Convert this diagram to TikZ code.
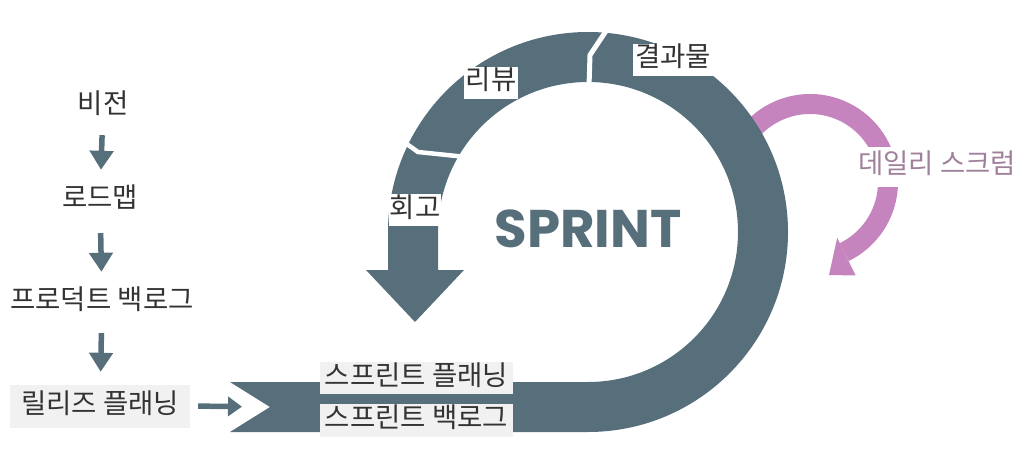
\documentclass[tikz,border=0pt]{standalone}
\usepackage{fontspec}
\setmainfont{Noto Sans CJK KR}
\newfontfamily\sprintfont{Poppins}
\usetikzlibrary{arrows.meta}
\definecolor{slate}{HTML}{566F7B}
\definecolor{pinkarc}{HTML}{C584BD}
\definecolor{pinktext}{HTML}{A0819B}
\definecolor{txt}{HTML}{333333}
\definecolor{bandfill}{HTML}{F1F1F1}
\begin{document}
\begin{tikzpicture}[x=1pt,y=1pt,
  lbl/.style={font=\fontsize{27.5}{27.5}\selectfont, text=txt, inner sep=3pt, text height=20pt, text depth=6pt},
  ringlbl/.style={lbl, fill=white, inner xsep=2pt},
  bandlbl/.style={lbl, fill=bandfill, minimum width=193pt, inner xsep=0pt},
  arr/.style={draw=slate, line width=5.5pt, -{Triangle[length=19pt,width=23pt]}},
  arrs/.style={draw=slate, line width=5.5pt, -{Triangle[length=14pt,width=19pt]}}]
\useasboundingbox (0,0) rectangle (1024,-449);
% daily scrum arc (behind ring)
\draw[pinkarc, line width=20pt] (810,-182) ++(155:78) arc[start angle=155, end angle=-64, radius=78];
\fill[pinkarc] (837.2,-237.7) -- (855.6,-275.5) -- (829,-275) -- cycle;
% sprint ring with band and arrow
\fill[slate] (230,-382) -- (588,-382) arc[start angle=-90, end angle=180, radius=150]
  -- (438,-270) -- (464,-270) -- (415,-322) -- (366,-270) -- (388,-270) -- (388,-232)
  arc[start angle=180, end angle=-90, radius=200] -- (230,-432) -- (270,-407) -- cycle;
\coordinate (notch) at (270,-407);
% gaps in the ring
\draw[white, line width=4.5pt] (404,-142) -- (418,-152) -- (466,-157);
\draw[white, line width=5pt] (608,-28) -- (590,-55) -- (589,-86);
% ring labels
\node[ringlbl] (res) at (673,-60) {결과물};
\node[ringlbl] (rev) at (491,-83) {리뷰};
\node[ringlbl, minimum width=52pt, inner xsep=0pt] (retro) at (415,-210) {회고};
\node[font=\sprintfont\bfseries\fontsize{53}{53}\selectfont, text=slate] (sprint) at (588,-229) {SPRINT};
% band labels
\node[bandlbl, minimum height=31pt] (sp) at (416.5,-378) {스프린트 플래닝};
\node[bandlbl, minimum height=33pt] (sb) at (416.5,-420) {스프린트 백로그};
% daily scrum label
\node[lbl, fill=white, text=pinktext, minimum width=169pt, minimum height=39pt, inner xsep=0pt] (ds) at (937,-167) {데일리 스크럼};
% left column
\node[lbl] (v1) at (103,-107) {비전};
\node[lbl] (v2) at (100,-200) {로드맵};
\node[lbl] (v3) at (102,-302) {프로덕트 백로그};
\node[lbl, fill=bandfill, minimum width=180pt, minimum height=43pt, inner xsep=0pt] (v4) at (100,-406) {릴리즈 플래닝};
\draw[arr, shorten <=12pt, shorten >=14pt] (v1) -- (v2);
\draw[arr, shorten <=17pt, shorten >=14pt] (v2) -- (v3);
\draw[arr, shorten <=15pt, shorten >=12.5pt] (v3) -- (v4);
\draw[arrs, shorten <=8pt, shorten >=28pt] (v4.east) -- (notch);
\end{tikzpicture}
\end{document}
